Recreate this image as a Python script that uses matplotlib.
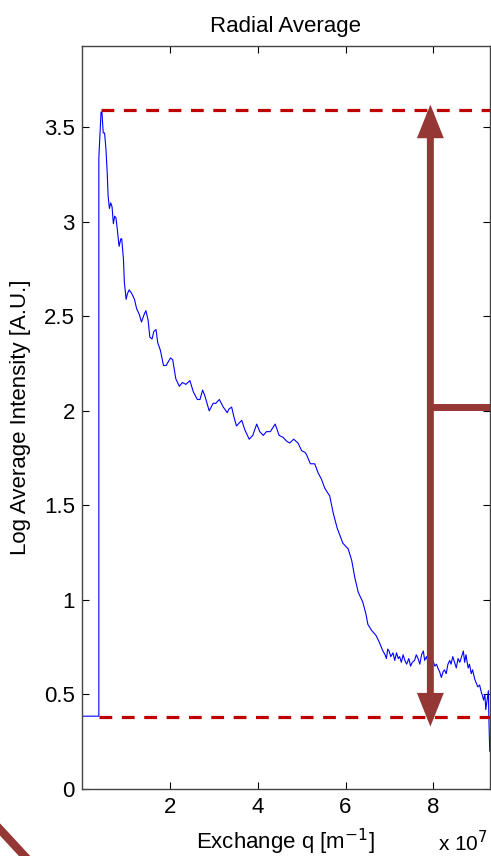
import matplotlib

matplotlib.use("Agg")
import matplotlib.pyplot as plt
from matplotlib.lines import Line2D

plt.rcParams["font.family"] = ["Liberation Sans", "DejaVu Sans"]

# radial average, q in units of 1e7 m^-1
q = [0.0, 0.39, 0.39, 0.44, 0.46, 0.49, 0.52, 0.55, 0.58, 0.60, 0.63, 0.66, 0.69, 0.72,
     0.75, 0.78, 0.81, 0.85, 0.89, 0.91, 0.95, 0.97, 1.01, 1.04, 1.08, 1.14, 1.20, 1.25,
     1.31, 1.36, 1.42, 1.46, 1.51, 1.55, 1.60, 1.64, 1.69, 1.73, 1.79, 1.86, 1.92, 2.02,
     2.07, 2.14, 2.22, 2.29, 2.37, 2.46, 2.54, 2.63, 2.69, 2.75, 2.80, 2.90, 2.99, 3.05,
     3.13, 3.22, 3.31, 3.35, 3.41, 3.46, 3.52, 3.64, 3.71, 3.81, 3.89, 3.98, 4.05, 4.13,
     4.20, 4.29, 4.40, 4.49, 4.58, 4.66, 4.73, 4.82, 4.92, 5.00, 5.08, 5.11, 5.20, 5.30,
     5.38, 5.45, 5.53, 5.64, 5.72, 5.81, 5.94, 6.06, 6.14, 6.21, 6.29, 6.39, 6.46, 6.51,
     6.59, 6.70, 6.78, 6.85, 6.90, 6.93, 6.96, 6.99, 7.03, 7.08, 7.12, 7.16, 7.20, 7.23,
     7.27, 7.31, 7.35, 7.39, 7.44, 7.48, 7.52, 7.57, 7.61, 7.65, 7.69, 7.73, 7.77, 7.80,
     7.84, 7.88, 7.92, 7.95, 7.99, 8.03, 8.07, 8.10, 8.14, 8.18, 8.22, 8.25, 8.29, 8.33,
     8.37, 8.40, 8.44, 8.48, 8.52, 8.56, 8.60, 8.64, 8.68, 8.71, 8.74, 8.76, 8.79, 8.82,
     8.86, 8.89, 8.94, 9.01, 9.05, 9.09, 9.12, 9.14, 9.17, 9.19, 9.22, 9.25, 9.26, 9.28]
log_intensity = [0.385, 0.385, 3.34, 3.58, 3.58, 3.47, 3.47, 3.39, 3.26, 3.14, 3.07, 3.10,
                 3.08, 2.99, 3.03, 3.02, 2.96, 2.87, 2.91, 2.91, 2.80, 2.68, 2.59, 2.62,
                 2.64, 2.62, 2.59, 2.54, 2.51, 2.47, 2.51, 2.53, 2.48, 2.39, 2.38, 2.42,
                 2.43, 2.36, 2.32, 2.24, 2.24, 2.28, 2.27, 2.17, 2.13, 2.15, 2.14, 2.16,
                 2.10, 2.06, 2.06, 2.11, 2.08, 2.00, 2.04, 2.04, 2.06, 2.02, 1.99, 2.01,
                 2.02, 1.97, 1.92, 1.95, 1.90, 1.85, 1.87, 1.93, 1.89, 1.87, 1.89, 1.89,
                 1.93, 1.87, 1.86, 1.84, 1.83, 1.85, 1.83, 1.79, 1.78, 1.77, 1.72, 1.72,
                 1.67, 1.64, 1.59, 1.55, 1.46, 1.38, 1.30, 1.27, 1.21, 1.12, 1.04, 0.99,
                 0.93, 0.87, 0.84, 0.81, 0.77, 0.73, 0.71, 0.69, 0.74, 0.73, 0.70, 0.72,
                 0.68, 0.72, 0.69, 0.70, 0.67, 0.71, 0.68, 0.66, 0.69, 0.65, 0.67, 0.68,
                 0.71, 0.69, 0.66, 0.71, 0.73, 0.68, 0.70, 0.67, 0.69, 0.66, 0.68, 0.65,
                 0.66, 0.64, 0.62, 0.59, 0.62, 0.63, 0.61, 0.66, 0.68, 0.66, 0.70, 0.67,
                 0.64, 0.69, 0.67, 0.70, 0.73, 0.67, 0.71, 0.68, 0.64, 0.66, 0.61, 0.63,
                 0.58, 0.54, 0.55, 0.51, 0.49, 0.47, 0.50, 0.42, 0.47, 0.52, 0.38, 0.20]

upper_level = 3.59
lower_level = 0.38
arrow_q = 7.93
bar_level = 2.02

fig = plt.figure(figsize=(4.91, 8.56), dpi=100)
ax = fig.add_axes([0.1664, 0.0783, 0.8310, 0.868])

ax.plot(q, log_intensity, color="blue", linewidth=0.8)

dark_red = "#c00000"
ax.plot([0.43, 9.4], [upper_level, upper_level], color=dark_red, linewidth=2.3,
        linestyle=(0, (4, 3)))
ax.plot([0.39, 9.4], [lower_level, lower_level], color=dark_red, linewidth=2.3,
        linestyle=(0, (4, 3)))

brown = "#953735"
ax.annotate("", xy=(arrow_q, upper_level + 0.03), xytext=(arrow_q, lower_level - 0.05),
            arrowprops=dict(arrowstyle="<|-|>,head_length=0.75,head_width=0.3",
                            color=brown, linewidth=5, mutation_scale=20,
                            joinstyle="miter", shrinkA=0, shrinkB=0))
ax.plot([arrow_q, 9.4], [bar_level, bar_level], color=brown, linewidth=5,
        solid_capstyle="butt")

ax.set_xlim(0, 9.28)
ax.set_ylim(0, 3.93)
ax.set_xticks([2, 4, 6, 8])
ax.set_yticks([0, 0.5, 1, 1.5, 2, 2.5, 3, 3.5])
ax.set_yticklabels(["0", "0.5", "1", "1.5", "2", "2.5", "3", "3.5"])
ax.tick_params(direction="in", length=5, width=0.8, top=True, right=True,
               labelsize=16, colors="black")
ax.tick_params(axis="x", pad=6)
ax.tick_params(axis="y", pad=5)
for s in ax.spines.values():
    s.set_color("#444444")
    s.set_linewidth(1)

ax.set_title("Radial Average", fontsize=16, pad=10)
ax.set_xlabel("Exchange q [m$^{-1}$]", fontsize=16, labelpad=6)
ax.set_ylabel("Log Average Intensity [A.U.]", fontsize=16, labelpad=9)
fig.text(0.993, 0.006, "x 10$^{7}$", fontsize=15, ha="right", va="baseline")

# stray annotation stroke in the lower left corner
fig.add_artist(Line2D([0.0, 0.05], [0.031, 0.0], color=brown, linewidth=6,
                      transform=fig.transFigure))

fig.savefig("out.png", dpi=100)
